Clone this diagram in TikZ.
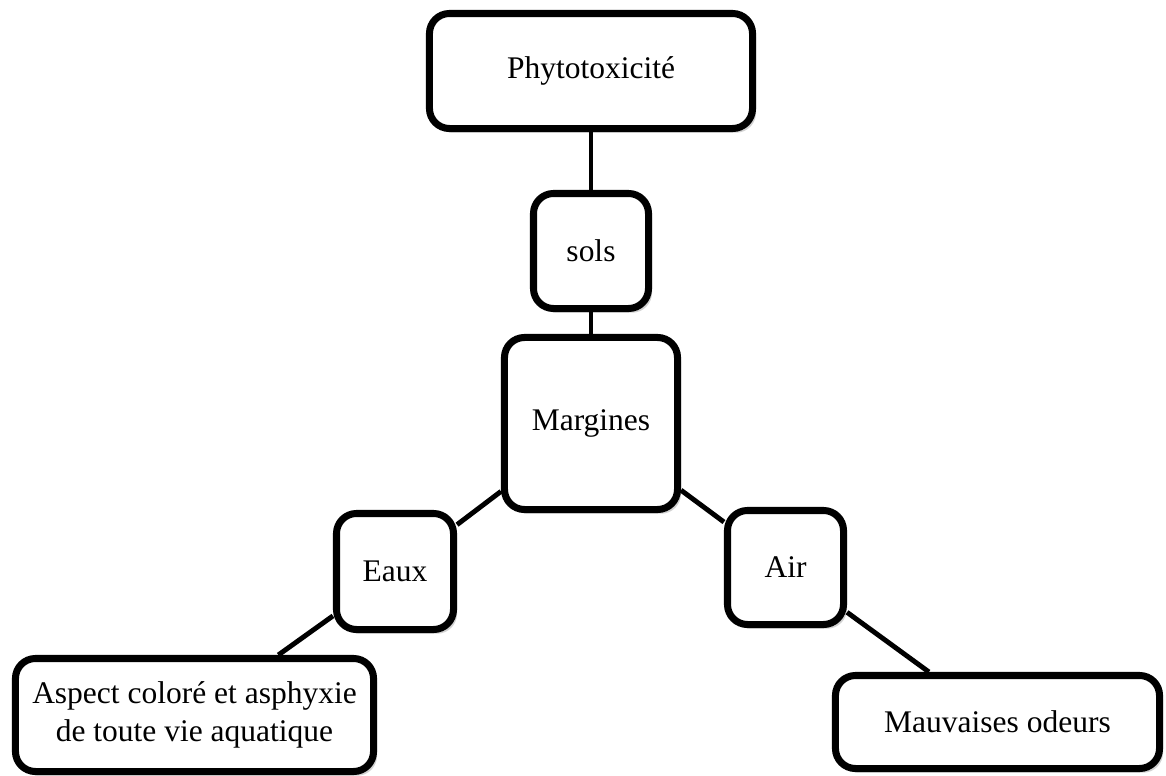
\documentclass[tikz,border=0pt]{standalone}
\usepackage{fontspec}
\setmainfont{Liberation Serif}
\usetikzlibrary{shadows}

\begin{document}
\begin{tikzpicture}[
  x=0.025cm, y=-0.025cm,
  box/.style={draw=black, fill=white, line width=5pt, rounded corners=0.5cm,
    align=center, inner sep=0pt, font=\fontsize{22.4}{26.5}\selectfont,
    drop shadow={shadow xshift=2.5pt, shadow yshift=-3pt, fill=black!25, opacity=0.7}},
  edge/.style={line width=3.5pt, draw=black}
]
  \useasboundingbox (0,0) rectangle (1166,776);

  % --- Axe central (haut) ---
  \node[box, minimum width=8.075cm, minimum height=2.875cm] (phyto) at (591, 71) {Phytotoxicité};
  \node[box, minimum width=2.875cm, minimum height=2.875cm] (sols) at (591, 251) {sols};
  \node[box, minimum width=4.325cm, minimum height=4.3cm] (margines) at (591, 423.5) {Margines};

  % --- Branche gauche : eaux ---
  \node[box, minimum width=2.925cm, minimum height=2.9cm] (eaux) at (395, 571.5) {Eaux};
  \node[box, minimum width=8.95cm, minimum height=2.825cm] (aspect) at (194.5, 715) {Aspect coloré et asphyxie\\de toute vie aquatique};

  % --- Branche droite : air ---
  \node[box, minimum width=2.9cm, minimum height=2.85cm] (air) at (785.5, 567.5) {Air};
  \node[box, minimum width=8.1cm, minimum height=2.325cm] (odeurs) at (997.5, 722) {Mauvaises odeurs};

  % Liaisons
  \draw[edge] (phyto) -- (sols);
  \draw[edge] (sols) -- (margines);
  \draw[edge] (margines) -- (eaux);
  \draw[edge] (eaux) -- (aspect);
  \draw[edge] (margines) -- (air);
  \draw[edge] (air) -- (odeurs);
\end{tikzpicture}
\end{document}
